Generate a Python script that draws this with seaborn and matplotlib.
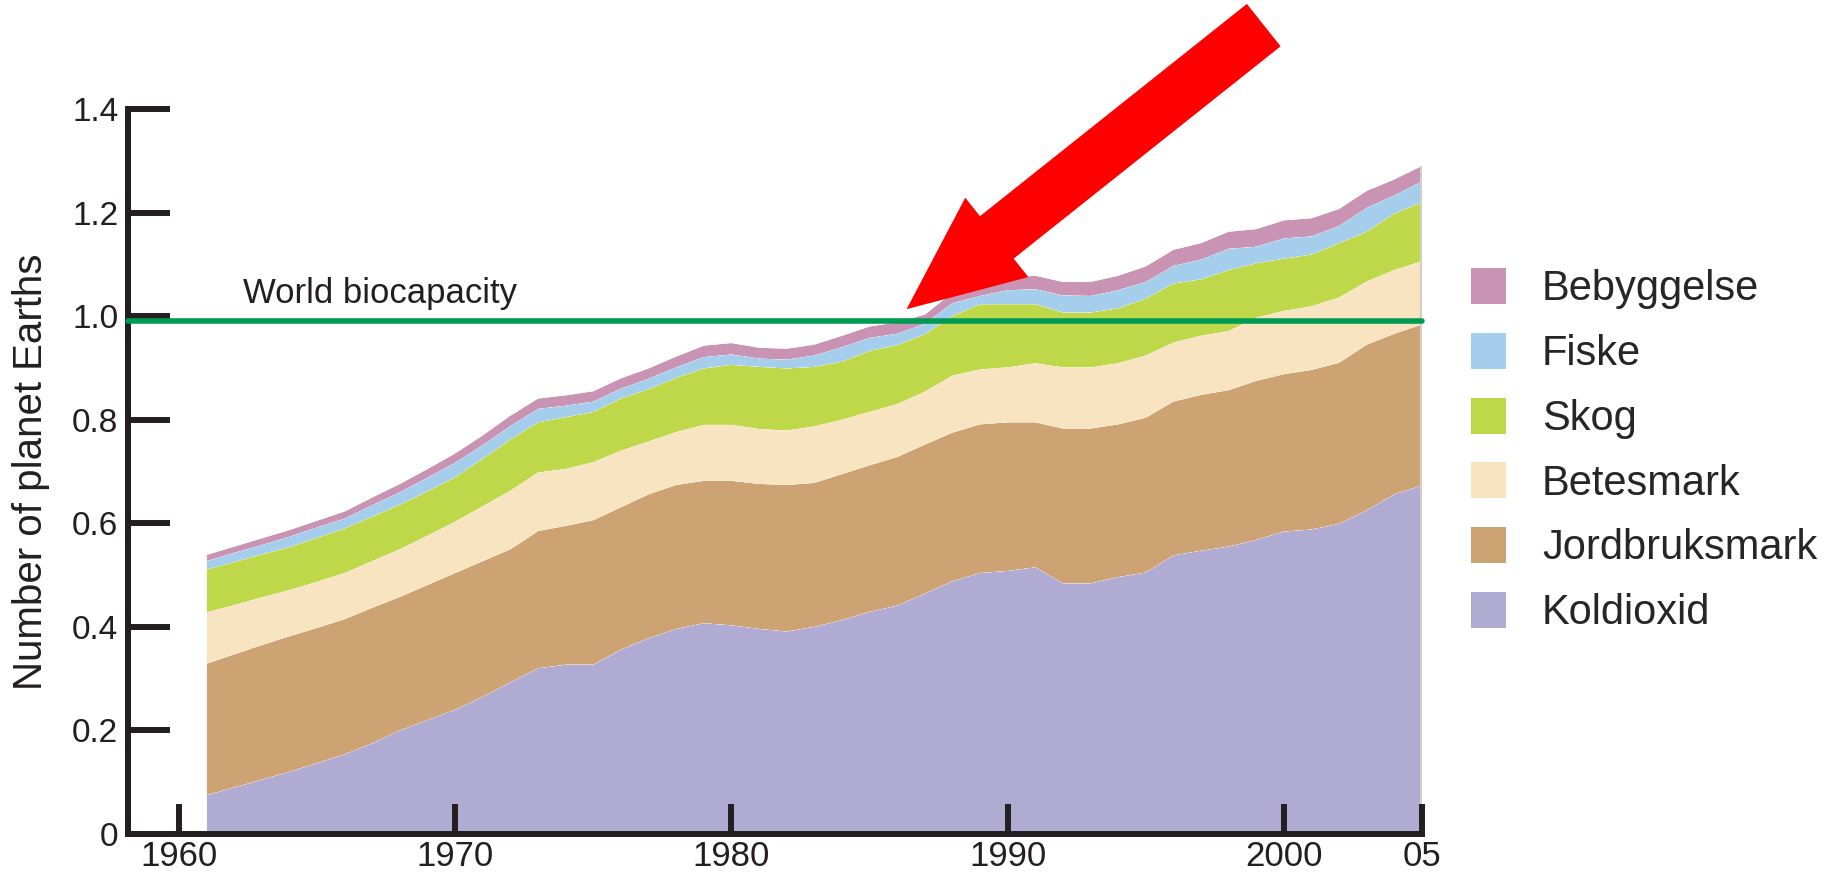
import numpy as np
import pandas as pd
import seaborn as sns
import seaborn.objects as so
import matplotlib.pyplot as plt
from matplotlib.patches import Patch

# Ecological footprint by component, number of planet Earths, 1961-2005
years = list(range(1961, 2006))

koldioxid = [0.075, 0.09, 0.105, 0.12, 0.137, 0.154, 0.175, 0.20, 0.22, 0.24,
             0.265, 0.293, 0.32, 0.327, 0.327, 0.356, 0.378, 0.396, 0.407, 0.403,
             0.396, 0.391, 0.40, 0.413, 0.429, 0.441, 0.464, 0.488, 0.504, 0.508,
             0.515, 0.484, 0.484, 0.496, 0.505, 0.538, 0.547, 0.555, 0.568, 0.584,
             0.588, 0.599, 0.625, 0.656, 0.673]
jordbruksmark = [0.254, 0.257, 0.26, 0.262, 0.261, 0.261, 0.262, 0.258, 0.261, 0.264,
                 0.262, 0.257, 0.265, 0.268, 0.279, 0.275, 0.278, 0.278, 0.275, 0.279,
                 0.28, 0.283, 0.278, 0.282, 0.283, 0.287, 0.288, 0.287, 0.287, 0.287,
                 0.28, 0.299, 0.299, 0.295, 0.299, 0.297, 0.301, 0.302, 0.307, 0.304,
                 0.308, 0.311, 0.32, 0.31, 0.311]
betesmark = [0.099, 0.095, 0.092, 0.089, 0.089, 0.089, 0.09, 0.092, 0.095, 0.099,
             0.106, 0.113, 0.113, 0.11, 0.112, 0.109, 0.102, 0.102, 0.108, 0.108,
             0.106, 0.105, 0.109, 0.105, 0.103, 0.102, 0.102, 0.11, 0.106, 0.106,
             0.114, 0.118, 0.118, 0.118, 0.12, 0.114, 0.114, 0.114, 0.122, 0.122,
             0.123, 0.126, 0.122, 0.123, 0.122]
skog = [0.083, 0.083, 0.083, 0.083, 0.085, 0.086, 0.086, 0.086, 0.086, 0.086,
        0.092, 0.099, 0.097, 0.10, 0.097, 0.101, 0.101, 0.105, 0.109, 0.116,
        0.12, 0.12, 0.115, 0.112, 0.118, 0.114, 0.111, 0.115, 0.126, 0.122,
        0.114, 0.106, 0.106, 0.106, 0.11, 0.114, 0.109, 0.118, 0.105, 0.101,
        0.10, 0.105, 0.096, 0.109, 0.114]
fiske = [0.016, 0.018, 0.018, 0.02, 0.02, 0.019, 0.022, 0.024, 0.026, 0.028,
         0.026, 0.026, 0.026, 0.022, 0.02, 0.019, 0.02, 0.02, 0.022, 0.02,
         0.016, 0.017, 0.022, 0.028, 0.025, 0.022, 0.02, 0.025, 0.016, 0.027,
         0.029, 0.033, 0.032, 0.035, 0.032, 0.034, 0.038, 0.041, 0.032, 0.039,
         0.035, 0.033, 0.046, 0.035, 0.04]
bebyggelse = [0.012, 0.012, 0.013, 0.013, 0.013, 0.014, 0.015, 0.016, 0.017, 0.018,
              0.019, 0.02, 0.02, 0.02, 0.02, 0.02, 0.02, 0.021, 0.022, 0.022,
              0.021, 0.021, 0.021, 0.022, 0.022, 0.022, 0.018, 0.02, 0.023, 0.024,
              0.026, 0.026, 0.027, 0.028, 0.03, 0.031, 0.032, 0.033, 0.034, 0.035,
              0.035, 0.033, 0.033, 0.031, 0.03]

layers = ['Koldioxid', 'Jordbruksmark', 'Betesmark', 'Skog', 'Fiske', 'Bebyggelse']
layer_colors = ['#b0abd3', '#cea374', '#f8e4c0', '#bed84a', '#a5cdec', '#c993b3']

x_ticks = [1960, 1970, 1980, 1990, 2000, 2005]
x_labels = ['1960', '1970', '1980', '1990', '2000', '05']
y_ticks = [0, 0.2, 0.4, 0.6, 0.8, 1.0, 1.2, 1.4]
y_labels = ['0', '0.2', '0.4', '0.6', '0.8', '1.0', '1.2', '1.4']
biocapacity = 0.99

df = pd.DataFrame({
    'year': years * len(layers),
    'value': koldioxid + jordbruksmark + betesmark + skog + fiske + bebyggelse,
    'layer': np.repeat(layers, len(years)),
})

sns.set_style('white')
plt.rcParams['font.family'] = ['Liberation Sans', 'DejaVu Sans']

ink = '#231f20'
fig = plt.figure(figsize=(18.45, 8.84), dpi=100)
ax = fig.add_axes([128 / 1845, 50 / 884, 1294 / 1845, 725 / 884])

(
    so.Plot(df, x='year', y='value', color='layer')
    .add(so.Area(alpha=1, edgewidth=0), so.Stack(), legend=False)
    .scale(color=so.Nominal(dict(zip(layers, layer_colors)), order=layers))
    .on(ax)
    .plot()
)

ax.set_xlim(1958.15, 2005)
ax.set_ylim(0, 1.4)
ax.grid(False)
ax.set_facecolor('white')
ax.set_axisbelow(False)

for side in ['top', 'right']:
    ax.spines[side].set_visible(False)
for side in ['left', 'bottom']:
    ax.spines[side].set_visible(True)
    ax.spines[side].set_color(ink)
    ax.spines[side].set_linewidth(4.3)
    ax.spines[side].set_capstyle('projecting')

# thin greyish edge where the area stops in 2005
total = np.sum([koldioxid, jordbruksmark, betesmark, skog, fiske, bebyggelse], axis=0)
ax.vlines(years[-1], 0, total[-1], color='#d6cec4', lw=3, zorder=2)

ax.set_xticks(x_ticks)
ax.set_xticklabels(x_labels)
ax.set_yticks(y_ticks)
ax.set_yticklabels(y_labels)
ax.tick_params(axis='y', left=True, direction='in', length=30, width=4.3, color=ink,
               labelsize=24, labelcolor=ink, pad=7)
ax.tick_params(axis='x', bottom=True, direction='in', length=21.5, width=4.3, color=ink,
               labelsize=25, labelcolor=ink, pad=4)

ax.set_xlabel('')
ax.set_ylabel('Number of planet Earths', fontsize=29, color=ink)
ax.yaxis.set_label_coords(-0.06, 0.5)

# world biocapacity line and its label
ax.axhline(biocapacity, color='#009a52', lw=4, zorder=4, clip_on=False)
ax.text(1962.3, 1.025, 'World biocapacity', fontsize=25, color=ink, va='baseline')

# big red arrow pointing at the crossing
ax.annotate('', xy=(1986.34, 1.0135), xytext=(1999.27, 1.562),
            arrowprops=dict(arrowstyle='simple,head_length=8.3,head_width=7.3,tail_width=3.9',
                            mutation_scale=10, fc='#ff0000', ec='none',
                            shrinkA=0, shrinkB=0),
            annotation_clip=False, zorder=10)

handles = [Patch(facecolor=c, edgecolor='none', label=l)
           for l, c in zip(layers[::-1], layer_colors[::-1])]
fig.legend(handles=handles, loc='upper left',
           bbox_to_anchor=(1471 / 1845, (884 - 268) / 884),
           frameon=False, fontsize=30, handlelength=0.84, handleheight=0.96,
           handletextpad=0.86, labelspacing=0.56, borderpad=0, borderaxespad=0)

fig.savefig('out.png', dpi=100)
